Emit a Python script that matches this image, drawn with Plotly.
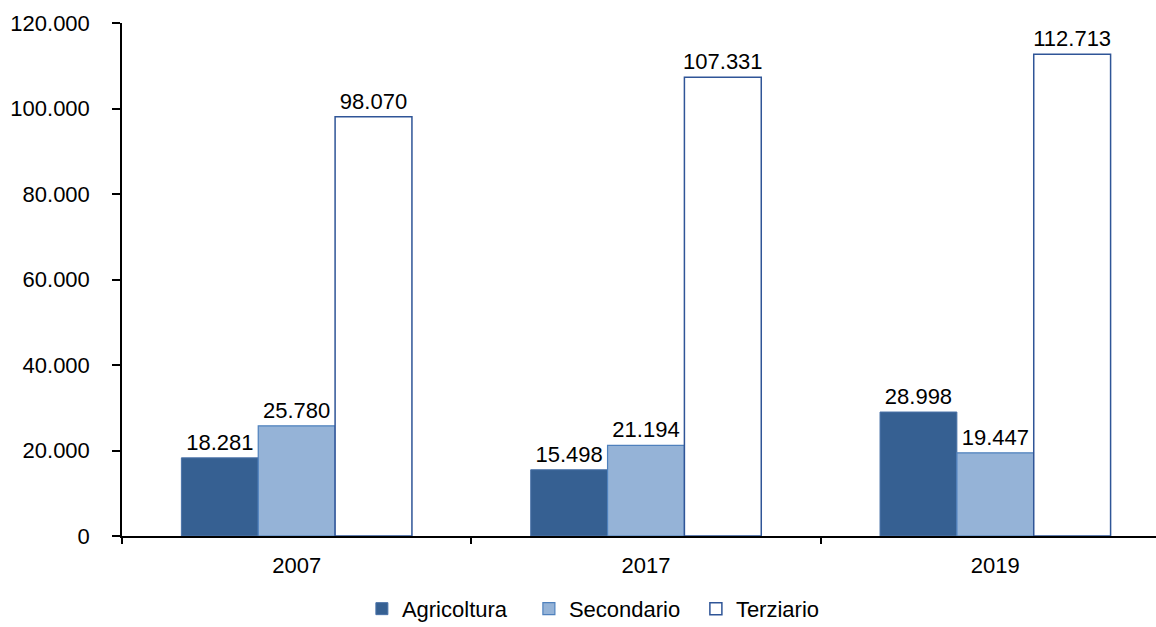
import plotly.graph_objects as go

years = ["2007", "2017", "2019"]
agricoltura = [18281, 15498, 28998]
secondario = [25780, 21194, 19447]
terziario = [98070, 107331, 112713]

font = dict(family="Arial, Liberation Sans, sans-serif", size=22, color="black")

fig = go.Figure()
fig.add_trace(go.Bar(
    name="Agricoltura", x=years, y=agricoltura,
    marker=dict(color="#366092", line=dict(color="#4a72a8", width=1)),
))
fig.add_trace(go.Bar(
    name="Secondario", x=years, y=secondario,
    marker=dict(color="#95b3d7", line=dict(color="#4f81bd", width=1.2)),
))
fig.add_trace(go.Bar(
    name="Terziario", x=years, y=terziario,
    marker=dict(color="white", line=dict(color="#2f5597", width=1.5)),
))

fig.update_traces(texttemplate="%{y:,d}", textposition="outside", textfont=font,
                  constraintext="none", cliponaxis=False)

fig.update_layout(
    width=1156, height=627,
    margin=dict(l=122, r=0, t=23, b=91, autoexpand=False),
    paper_bgcolor="white", plot_bgcolor="white",
    font=font,
    separators=",.",
    barmode="group", bargap=0.34, bargroupgap=0,
    showlegend=True,
    legend=dict(orientation="h", x=0.232, xanchor="left", y=-0.142, yanchor="middle",
                font=font, itemwidth=30, entrywidthmode="pixels", entrywidth=122),
    xaxis=dict(
        type="category", range=[-0.5, 2.46],
        showline=True, linecolor="black", linewidth=1.5,
        ticks="outside", tickson="boundaries", ticklen=6, tickcolor="black", tickwidth=1.5,
        showgrid=False, tickfont=font, ticklabelstandoff=9,
    ),
    yaxis=dict(
        range=[0, 120000], dtick=20000, tickformat=",d",
        showline=True, linecolor="black", linewidth=1.5,
        ticks="outside", ticklen=8, tickcolor="black", tickwidth=1.5,
        showgrid=False, zeroline=False, tickfont=font, ticklabelstandoff=18,
    ),
)

fig.write_html("out.html", config={"displayModeBar": False},
               post_script="document.body.style.margin='0';document.body.style.overflow='hidden';")
